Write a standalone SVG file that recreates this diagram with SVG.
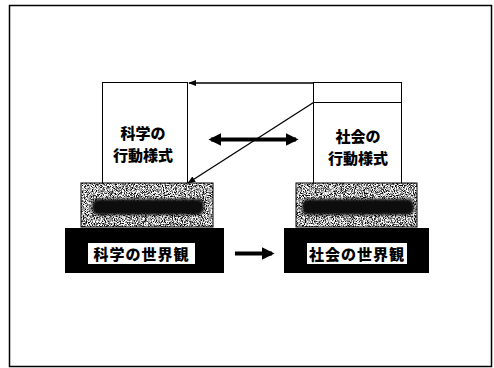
<svg xmlns="http://www.w3.org/2000/svg" width="494" height="368" viewBox="0 0 494 368">
  <style>
    .box { fill: #fff; stroke: #000; stroke-width: 1; }
    .lbl { font-family: "Noto Sans CJK JP", "Noto Sans CJK SC", sans-serif; font-weight: 900; font-size: 15px; fill: #000; text-anchor: middle; }
    .base { fill: #000; }
    .plate { fill: #fff; }
    .conn { stroke: #000; fill: none; }
  </style>
  <defs>
    <filter id="noise" x="0" y="0" width="100%" height="100%">
      <feTurbulence type="fractalNoise" baseFrequency="1.1" numOctaves="2" seed="3" result="t"/>
      <feColorMatrix in="t" type="matrix" values="0 0 0 0 0  0 0 0 0 0  0 0 0 0 0  3.4 0 0 0 -1.35" result="n"/>
      <feComposite in="n" in2="SourceGraphic" operator="in"/>
    </filter>
    <filter id="blurband" x="-20%" y="-60%" width="140%" height="220%">
      <feGaussianBlur stdDeviation="1.8"/>
    </filter>
    <marker id="ah" viewBox="0 0 10 10" refX="9" refY="5" markerWidth="8" markerHeight="8" markerUnits="userSpaceOnUse" orient="auto-start-reverse">
      <path d="M0,1 L10,5 L0,9 z" fill="#000"/>
    </marker>
    <marker id="ahb" viewBox="0 0 10 10" refX="8" refY="5" markerWidth="3.2" markerHeight="3.2" orient="auto-start-reverse">
      <path d="M0,0 L10,5 L0,10 z" fill="#000"/>
    </marker>
  </defs>

  <rect x="0" y="0" width="494" height="368" fill="#fff"/>
  <rect x="9.5" y="5.5" width="482" height="361" fill="none" stroke="#000" stroke-width="1.5"/>

  <g id="science-behavior">
    <rect class="box" x="102.5" y="82.5" width="85" height="101"/>
    <text class="lbl" x="143" y="139">科学の</text>
    <text class="lbl" x="143" y="161">行動様式</text>
  </g>

  <g id="society-behavior">
    <rect class="box" x="313.5" y="82.5" width="88" height="101"/>
    <line x1="313.5" y1="102.5" x2="401.5" y2="102.5" stroke="#000" stroke-width="1"/>
    <text class="lbl" x="358" y="142">社会の</text>
    <text class="lbl" x="358" y="164">行動様式</text>
  </g>

  <g id="science-middle">
    <rect x="81" y="183" width="132" height="44" fill="#fff" stroke="#000" stroke-width="1"/>
    <rect x="81" y="183" width="132" height="44" fill="#fff" filter="url(#noise)"/>
    <rect x="92" y="199" width="112" height="16" rx="6" fill="#111" filter="url(#blurband)"/>
  </g>

  <g id="society-middle">
    <rect x="296" y="183" width="121" height="44" fill="#fff" stroke="#000" stroke-width="1"/>
    <rect x="296" y="183" width="121" height="44" fill="#fff" filter="url(#noise)"/>
    <rect x="302" y="199" width="112" height="16" rx="6" fill="#111" filter="url(#blurband)"/>
  </g>

  <g id="science-worldview">
    <rect class="base" x="65" y="228" width="159" height="45"/>
    <rect class="plate" x="88" y="243" width="107" height="21"/>
    <text class="lbl" x="141.5" y="259.5" font-size="16" letter-spacing="1">科学の世界観</text>
  </g>

  <g id="society-worldview">
    <rect class="base" x="284" y="228" width="145" height="45"/>
    <rect class="plate" x="307" y="243" width="100" height="21"/>
    <text class="lbl" x="357" y="259.5" font-size="16" letter-spacing="1">社会の世界観</text>
  </g>

  <g id="connectors">
    <line class="conn" x1="313.5" y1="83" x2="189" y2="83" stroke-width="1.3" marker-end="url(#ah)"/>
    <line class="conn" x1="313.5" y1="102.5" x2="188" y2="183" stroke-width="1.3" marker-end="url(#ah)"/>
    <line class="conn" x1="211" y1="139.5" x2="296" y2="139.5" stroke-width="4" marker-start="url(#ahb)" marker-end="url(#ahb)"/>
    <line class="conn" x1="235" y1="253.5" x2="272" y2="253.5" stroke-width="4" marker-end="url(#ahb)"/>
  </g>
</svg>
